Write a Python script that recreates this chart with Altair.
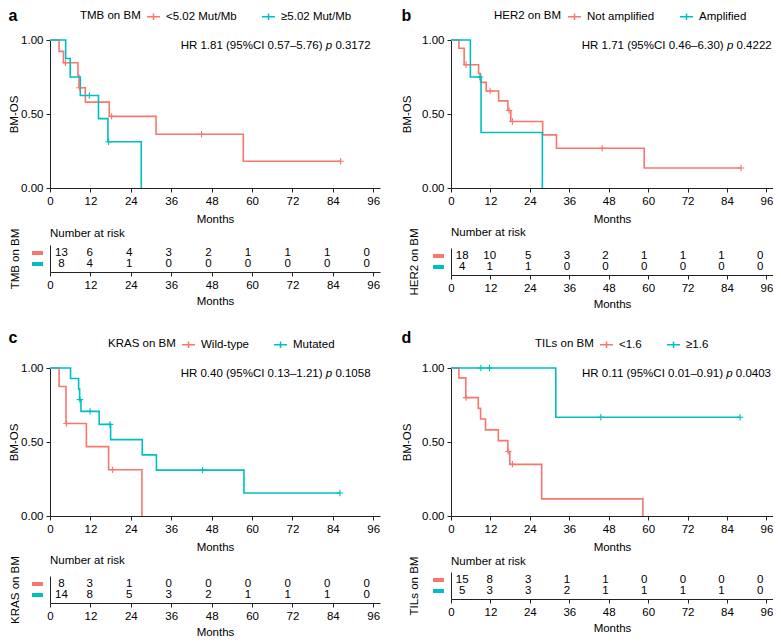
import altair as alt
import pandas as pd

RED, CYAN = "#F8766D", "#00BFC4"
FONT = "Liberation Sans"
FS = 11.5
TICKS = [0, 12, 24, 36, 48, 60, 72, 84, 96]
YTICKS = [0, 0.25, 0.5, 0.75, 1.0]
XMAX = 98

# ---------------- panel a ----------------
a_var = "TMB on BM"
a_groups = ["<5.02 Mut/Mb", "≥5.02 Mut/Mb"]
a_g1_t = [0, 2.7, 4.0, 8.3, 8.6, 10.5, 17.6, 31.5, 57.4, 86.3]
a_g1_s = [1.0, 0.923, 0.846, 0.762, 0.677, 0.580, 0.484, 0.363, 0.181, 0.181]
a_g1_c = [4.6, 8.8, 18.3, 45.0, 86.3]
a_g2_t = [0, 4.65, 6.0, 9.0, 14.4, 17.2, 27.1]
a_g2_s = [1.0, 0.875, 0.750, 0.625, 0.469, 0.3125, 0.0]
a_g2_c = [11.7, 17.4]
a_risk1 = [13, 6, 4, 3, 2, 1, 1, 1, 0]
a_risk2 = [8, 4, 1, 0, 0, 0, 0, 0, 0]
a_hr = "HR 1.81 (95%CI 0.57–5.76)"
a_p = "0.3172"

# ---------------- panel b ----------------
b_var = "HER2 on BM"
b_groups = ["Not amplified", "Amplified"]
b_g1_t = [0, 2.4, 4.0, 8.4, 9.0, 10.7, 14.5, 17.3, 18.2, 27.9, 32.1, 58.8, 88.3]
b_g1_s = [1.0, 0.944, 0.833, 0.774, 0.714, 0.655, 0.589, 0.524, 0.449, 0.359, 0.269, 0.135, 0.135]
b_g1_c = [4.6, 11.9, 17.7, 18.7, 46.0, 88.3]
b_g2_t = [0, 5.9, 9.15, 27.8]
b_g2_s = [1.0, 0.75, 0.375, 0.0]
b_g2_c = [8.8]
b_risk1 = [18, 10, 5, 3, 2, 1, 1, 1, 0]
b_risk2 = [4, 1, 1, 0, 0, 0, 0, 0, 0]
b_hr = "HR 1.71 (95%CI 0.46–6.30)"
b_p = "0.4222"

# ---------------- panel c ----------------
c_var = "KRAS on BM"
c_groups = ["Wild-type", "Mutated"]
c_g1_t = [0, 2.7, 4.75, 10.8, 17.4, 27.3]
c_g1_s = [1.0, 0.875, 0.625, 0.469, 0.3125, 0.0]
c_g1_c = [4.9, 18.6]
c_g2_t = [0, 6.1, 8.5, 8.8, 9.2, 14.6, 18.0, 27.4, 31.6, 57.6, 86.1]
c_g2_s = [1.0, 0.929, 0.857, 0.786, 0.707, 0.619, 0.516, 0.413, 0.310, 0.155, 0.155]
c_g2_c = [8.9, 11.9, 17.8, 45.3, 86.1]
c_risk1 = [8, 3, 1, 0, 0, 0, 0, 0, 0]
c_risk2 = [14, 8, 5, 3, 2, 1, 1, 1, 0]
c_hr = "HR 0.40 (95%CI 0.13–1.21)"
c_p = "0.1058"

# ---------------- panel d ----------------
d_var = "TILs on BM"
d_groups = ["<1.6", "≥1.6"]
d_g1_t = [0, 2.4, 4.5, 8.3, 9.0, 10.5, 14.4, 17.3, 17.9, 27.6, 58.4]
d_g1_s = [1.0, 0.933, 0.80, 0.727, 0.655, 0.582, 0.509, 0.436, 0.349, 0.116, 0.0]
d_g1_c = [4.6, 17.4, 18.7]
d_g2_t = [0, 31.9, 88.0]
d_g2_s = [1.0, 0.667, 0.667]
d_g2_c = [9.1, 11.7, 45.6, 88.0]
d_risk1 = [15, 8, 3, 1, 1, 0, 0, 0, 0]
d_risk2 = [5, 3, 3, 2, 1, 1, 1, 1, 0]
d_hr = "HR 0.11 (95%CI 0.01–0.91)"
d_p = "0.0403"

CROSS = "M-1,0L1,0M0,-1L0,1"
LEGSYM = "M-1,0L1,0M0,-0.5L0,0.5"
ROWS = ["r1", "r2"]


def step_at(ts, ss, c):
    v = ss[0]
    for t, s in zip(ts, ss):
        if t <= c:
            v = s
    return v


def panel(key, letter, var, groups, curves, censors, risks, hr, p, width, leg_x, hr_x, ypad, rpad, toff):
    gf = "grp_" + key
    rf = "row_" + key
    lines, cens = [], []
    for g, (ts, ss), cs in zip(groups, curves, censors):
        for t, s in zip(ts, ss):
            lines.append({"t": t, "s": s, gf: g})
        for c in cs:
            cens.append({"t": c, "s": step_at(ts, ss, c), gf: g})
    xsc = alt.Scale(domain=[0, XMAX], nice=False, zero=False)
    ysc = alt.Scale(domain=[0, 1], nice=False)
    csc = alt.Scale(domain=groups, range=[RED, CYAN])
    leg = alt.Legend(
        title=var, orient="none", legendX=leg_x, legendY=-31, direction="horizontal",
        titleOrient="left", titleFont=FONT, titleFontSize=FS, titleFontWeight="normal",
        titleColor="black", titlePadding=5, labelFont=FONT, labelFontSize=FS,
        labelColor="black", labelOffset=5, labelLimit=400, symbolType=LEGSYM,
        symbolSize=169, symbolStrokeWidth=1.5, columnPadding=22, padding=0,
    )
    line = alt.Chart(pd.DataFrame(lines)).mark_line(
        interpolate="step-after", strokeWidth=1.6
    ).encode(
        x=alt.X("t:Q", scale=xsc, axis=alt.Axis(values=TICKS, title="Months", labelFlush=False, titlePadding=7)),
        y=alt.Y("s:Q", scale=ysc, axis=alt.Axis(values=YTICKS, format=".2f", title="BM-OS", titlePadding=ypad)),
        color=alt.Color(gf + ":N", scale=csc, legend=leg, sort=groups),
    )
    pts = alt.Chart(pd.DataFrame(cens)).mark_point(
        shape=CROSS, size=42, filled=False, strokeWidth=1.1, opacity=1
    ).encode(x="t:Q", y="s:Q", color=alt.Color(gf + ":N", scale=csc, legend=None))
    hrdf = pd.DataFrame([{"t": hr_x, "s": 1.0, "hr": hr, "p": p}])
    tb = alt.Chart(hrdf).encode(x="t:Q", y="s:Q")
    tk = dict(align="right", baseline="middle", dy=6, font=FONT, fontSize=FS, color="black")
    t1 = tb.mark_text(dx=-48, **tk).encode(text="hr:N")
    t2 = tb.mark_text(dx=-38.4, fontStyle="italic", text="p", **tk)
    t3 = tb.mark_text(dx=0, **tk).encode(text="p:N")
    km = alt.layer(line, pts, t1, t2, t3).properties(
        width=width, height=148,
        title=alt.TitleParams(letter, anchor="start", frame="bounds", fontSize=16,
                              fontWeight="bold", font=FONT, offset=toff, color="black"),
    )
    rk = []
    for rid, vals in zip(ROWS, risks):
        for t, n in zip(TICKS, vals):
            rk.append({"t": t, "n": n, rf: rid})
    rdf = pd.DataFrame(rk)
    ysc_r = alt.Scale(domain=ROWS, type="point", padding=0.727)
    nums = alt.Chart(rdf).transform_calculate(
        xp="datum.t == 0 ? 3.4 : datum.t * 0.98"
    ).mark_text(font=FONT, fontSize=FS, color="black").encode(
        x=alt.X("xp:Q", scale=xsc, axis=alt.Axis(values=TICKS, title="Months", labelFlush=False, titlePadding=5)),
        y=alt.Y(rf + ":N", scale=ysc_r,
                axis=alt.Axis(title=var, labels=False, ticks=False, titlePadding=rpad)),
        text="n:Q",
    )
    keys = alt.Chart(pd.DataFrame({rf: ROWS})).mark_rule(strokeWidth=4, strokeCap="butt").encode(
        x=alt.value(-18), x2=alt.value(-7),
        y=alt.Y(rf + ":N", scale=ysc_r),
        color=alt.Color(rf + ":N", scale=alt.Scale(domain=ROWS, range=[RED, CYAN]), legend=None),
    )
    risk = alt.layer(nums, keys).properties(
        width=width, height=27,
        title=alt.TitleParams("Number at risk", anchor="start", frame="group", fontSize=FS,
                              fontWeight="normal", font=FONT, offset=-11, color="black"),
    )
    return alt.vconcat(km, risk, spacing=2).resolve_scale(color="independent").resolve_legend(color="independent")


pa = panel("a", "a", a_var, a_groups, [(a_g1_t, a_g1_s), (a_g2_t, a_g2_s)], [a_g1_c, a_g2_c],
           [a_risk1, a_risk2], a_hr, a_p, 330, 30, 95.2, 1, 30, -15)
pb = panel("b", "b", b_var, b_groups, [(b_g1_t, b_g1_s), (b_g2_t, b_g2_s)], [b_g1_c, b_g2_c],
           [b_risk1, b_risk2], b_hr, b_p, 322, 43, 97.6, 9, 32, -15)
pc = panel("c", "c", c_var, c_groups, [(c_g1_t, c_g1_s), (c_g2_t, c_g2_s)], [c_g1_c, c_g2_c],
           [c_risk1, c_risk2], c_hr, c_p, 330, 58, 95.2, 1, 30, -9)
pd_ = panel("d", "d", d_var, d_groups, [(d_g1_t, d_g1_s), (d_g2_t, d_g2_s)], [d_g1_c, d_g2_c],
            [d_risk1, d_risk2], d_hr, d_p, 322, 84, 97.4, 9, 32, -9)

row1 = alt.hconcat(pa, pb, spacing=21).resolve_scale(color="independent").resolve_legend(color="independent")
row2 = alt.hconcat(pc, pd_, spacing=21).resolve_scale(color="independent").resolve_legend(color="independent")

chart = alt.vconcat(row1, row2, spacing=20).resolve_scale(
    color="independent"
).resolve_legend(color="independent").properties(padding=0).configure_view(stroke=None).configure_axis(
    labelFont=FONT, titleFont=FONT, labelFontSize=FS, titleFontSize=FS,
    titleFontWeight="normal", labelColor="black", titleColor="black",
    domainColor="#222222", tickColor="#222222", tickSize=4, labelPadding=3, grid=False,
)

chart.save("out.html", embed_options={"renderer": "svg", "actions": False})
